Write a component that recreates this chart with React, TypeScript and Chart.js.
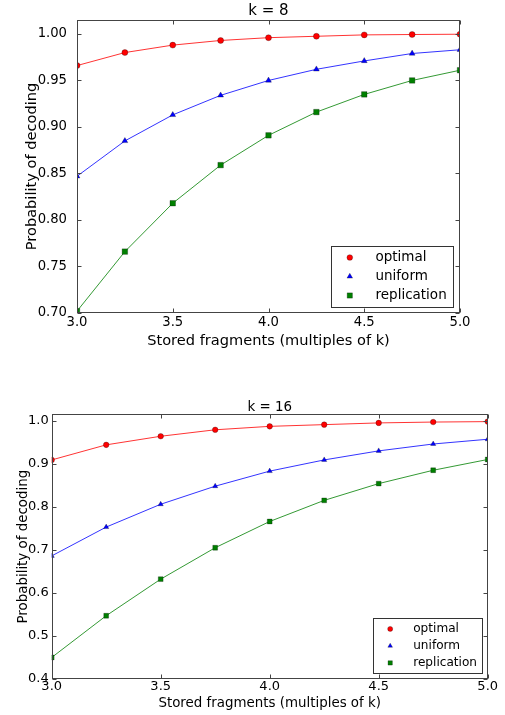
import React, { useEffect, useRef } from 'react';
import { Chart, registerables } from 'chart.js';
import { drawPoint } from 'chart.js/helpers';

Chart.register(...registerables);

// ---------- data ----------
const xValues = [3.0, 3.25, 3.5, 3.75, 4.0, 4.25, 4.5, 4.75, 5.0];
const xTickValues = [3.0, 3.5, 4.0, 4.5, 5.0];

const k8Optimal = [0.966, 0.980, 0.988, 0.993, 0.996, 0.9975, 0.999, 0.9994, 0.9997];
const k8Uniform = [0.847, 0.885, 0.913, 0.934, 0.950, 0.962, 0.971, 0.979, 0.983];
const k8Replication = [0.702, 0.766, 0.818, 0.859, 0.891, 0.916, 0.935, 0.950, 0.961];
const k8YTicks = [0.70, 0.75, 0.80, 0.85, 0.90, 0.95, 1.00];

const k16Optimal = [0.909, 0.944, 0.964, 0.979, 0.987, 0.991, 0.995, 0.997, 0.998];
const k16Uniform = [0.686, 0.753, 0.806, 0.848, 0.883, 0.909, 0.930, 0.946, 0.957];
const k16Replication = [0.450, 0.547, 0.632, 0.705, 0.766, 0.815, 0.854, 0.885, 0.910];
const k16YTicks = [0.4, 0.5, 0.6, 0.7, 0.8, 0.9, 1.0];

const seriesLabels = ['optimal', 'uniform', 'replication'];
const xAxisLabel = 'Stored fragments (multiples of k)';
const yAxisLabel = 'Probability of decoding';

const FONT = '"DejaVu Sans", "Bitstream Vera Sans", sans-serif';

const framePlugin = {
  id: 'mplFrame',
  afterDatasetsDraw(chart: any, _args: any, opts: any) {
    const { ctx, chartArea: a, scales } = chart;
    ctx.save();
    const L = Math.round(a.left) + 0.5;
    const R = Math.round(a.right) - 0.5;
    const T = Math.round(a.top) + 0.5;
    const B = Math.round(a.bottom) - 0.5;
    ctx.strokeStyle = opts.color;
    ctx.lineWidth = 1;
    const tl = opts.tickLength;
    ctx.beginPath();
    scales.x.ticks.forEach((t: any) => {
      const px = Math.round(scales.x.getPixelForValue(t.value)) + 0.5;
      ctx.moveTo(px, B);
      ctx.lineTo(px, B - tl);
      ctx.moveTo(px, T);
      ctx.lineTo(px, T + tl);
    });
    scales.y.ticks.forEach((t: any) => {
      const py = Math.round(scales.y.getPixelForValue(t.value)) + 0.5;
      ctx.moveTo(L, py);
      ctx.lineTo(L + tl, py);
      ctx.moveTo(R, py);
      ctx.lineTo(R - tl, py);
    });
    ctx.stroke();
    ctx.strokeRect(L, T, R - L, B - T);

    // legend
    const lg = opts.legend;
    const bx = Math.round(a.right - lg.right - lg.width) + 0.5;
    const by = Math.round(a.bottom - lg.bottom - lg.height) + 0.5;
    ctx.fillStyle = '#ffffff';
    ctx.fillRect(bx, by, lg.width, lg.height);
    ctx.strokeStyle = lg.border;
    ctx.lineWidth = 1;
    ctx.strokeRect(bx, by, lg.width, lg.height);
    chart.data.datasets.forEach((ds: any, i: number) => {
      const y = by + lg.firstRow + i * lg.rowGap;
      ctx.fillStyle = ds.pointBackgroundColor;
      ctx.strokeStyle = ds.pointBorderColor;
      ctx.lineWidth = ds.pointBorderWidth;
      drawPoint(
        ctx,
        { pointStyle: ds.pointStyle, radius: ds.pointRadius * lg.markerScale, rotation: 0, borderWidth: ds.pointBorderWidth },
        bx + lg.markerX,
        y
      );
      ctx.fillStyle = '#000';
      ctx.font = `${lg.fontSize}px ${FONT}`;
      ctx.textBaseline = 'middle';
      ctx.textAlign = 'left';
      ctx.fillText(ds.label, bx + lg.textX, y);
    });
    ctx.restore();
  },
};

type Panel = {
  title: string;
  series: number[][];
  yTicks: number[];
  yMin: number;
  yMax: number;
  yDecimals: number;
  width: number;
  height: number;
  top: number;
  rightPad: number;
  yAxisWidth: number;
  xAxisHeight: number;
  titleSize: number;
  titlePad: { top: number; bottom: number };
  tickSize: number;
  yTickPad: number;
  xTickPad: number;
  labelSize: number;
  yLabelPad: number;
  xLabelPad: number;
  radii: number[];
  legend: any;
};

const colorsFill = ['#ff0000', '#0000ff', '#008000'];
const colorsLine = ['rgba(255,0,0,0.8)', 'rgba(0,0,255,0.8)', 'rgba(0,128,0,0.8)'];
const styles = ['circle', 'triangle', 'rect'];

function PanelChart({ p }: { p: Panel }) {
  const ref = useRef<HTMLCanvasElement>(null);
  useEffect(() => {
    if (!ref.current) return;
    const datasets = p.series.map((arr, i) => ({
      label: seriesLabels[i],
      data: xValues.map((x, j) => ({ x, y: arr[j] })),
      borderColor: colorsLine[i],
      borderWidth: 1,
      backgroundColor: colorsFill[i],
      pointBackgroundColor: colorsFill[i],
      pointBorderColor: 'rgba(0,0,0,0.55)',
      pointBorderWidth: 0.5,
      pointStyle: styles[i],
      pointRadius: p.radii[i],
      tension: 0,
      showLine: true,
    }));
    const chart = new Chart(ref.current, {
      type: 'line',
      data: { datasets },
      plugins: [framePlugin],
      options: {
        animation: false,
        responsive: false,
        devicePixelRatio: 1,
        events: [],
        layout: { padding: { left: 0, right: p.rightPad, top: 0, bottom: 0 } },
        plugins: {
          legend: { display: false },
          tooltip: { enabled: false },
          title: {
            display: true,
            text: p.title,
            fullSize: false,
            color: '#000',
            font: { family: FONT, size: p.titleSize, weight: 'normal', lineHeight: 1 },
            padding: p.titlePad,
          },
          mplFrame: { color: '#444', tickLength: 4, legend: p.legend },
        } as any,
        scales: {
          x: {
            type: 'linear',
            min: 3,
            max: 5,
            afterBuildTicks: (s: any) => {
              s.ticks = xTickValues.map((v) => ({ value: v }));
            },
            afterFit: (s: any) => {
              s.height = p.xAxisHeight;
            },
            grid: { display: false, drawTicks: false },
            border: { display: false },
            ticks: {
              color: '#000',
              font: { family: FONT, size: p.tickSize },
              padding: p.xTickPad,
              maxRotation: 0,
              autoSkip: false,
              callback: (v: any) => Number(v).toFixed(1),
            },
            title: {
              display: true,
              text: xAxisLabel,
              color: '#000',
              font: { family: FONT, size: p.labelSize },
              padding: { top: 0, bottom: p.xLabelPad },
            },
          },
          y: {
            type: 'linear',
            min: p.yMin,
            max: p.yMax,
            afterBuildTicks: (s: any) => {
              s.ticks = p.yTicks.map((v) => ({ value: v }));
            },
            afterFit: (s: any) => {
              s.width = p.yAxisWidth;
            },
            grid: { display: false, drawTicks: false },
            border: { display: false },
            ticks: {
              color: '#000',
              font: { family: FONT, size: p.tickSize },
              padding: p.yTickPad,
              autoSkip: false,
              callback: (v: any) => Number(v).toFixed(p.yDecimals),
            },
            title: {
              display: true,
              text: yAxisLabel,
              color: '#000',
              font: { family: FONT, size: p.labelSize },
              padding: { top: p.yLabelPad, bottom: 0 },
            },
          },
        },
      } as any,
    });
    return () => chart.destroy();
  }, [p]);
  return (
    <canvas
      ref={ref}
      width={p.width}
      height={p.height}
      style={{ position: 'absolute', left: 0, top: p.top, width: p.width, height: p.height }}
    />
  );
}

const topPanel: Panel = {
  title: 'k = 8',
  series: [k8Optimal, k8Uniform, k8Replication],
  yTicks: k8YTicks,
  yMin: 0.7,
  yMax: 1.015,
  yDecimals: 2,
  width: 505,
  height: 355,
  top: 0,
  rightPad: 45,
  yAxisWidth: 77,
  xAxisHeight: 42,
  titleSize: 15,
  titlePad: { top: 3.3, bottom: 1.7 },
  tickSize: 13.2,
  yTickPad: 10,
  xTickPad: 1.2,
  labelSize: 14.6,
  yLabelPad: 23.6,
  xLabelPad: 5.4,
  radii: [3, 3.4, 3.9],
  legend: { right: 6.7, bottom: 5.7, width: 122, height: 61, firstRow: 11, rowGap: 19, markerX: 18.3, textX: 44, fontSize: 13.5, border: '#333', markerScale: 0.95 },
};

const bottomPanel: Panel = {
  title: 'k = 16',
  series: [k16Optimal, k16Uniform, k16Replication],
  yTicks: k16YTicks,
  yMin: 0.4,
  yMax: 1.015,
  yDecimals: 1,
  width: 505,
  height: 325,
  top: 390,
  rightPad: 17.3,
  yAxisWidth: 51.7,
  xAxisHeight: 36,
  titleSize: 13.4,
  titlePad: { top: 10.7, bottom: 0.2 },
  tickSize: 13,
  yTickPad: 3,
  xTickPad: 0,
  labelSize: 13.4,
  yLabelPad: 15.7,
  xLabelPad: 3.3,
  radii: [2.8, 3, 3.4],
  legend: { right: 6, bottom: 6.3, width: 109, height: 55, firstRow: 10.4, rowGap: 17, markerX: 16.7, textX: 39.7, fontSize: 12.1, border: '#333', markerScale: 0.9 },
};

export default function App() {
  return (
    <div style={{ position: 'absolute', left: 0, top: 0, width: 505, height: 715, background: '#fff' }}>
      <PanelChart p={topPanel} />
      <PanelChart p={bottomPanel} />
    </div>
  );
}
